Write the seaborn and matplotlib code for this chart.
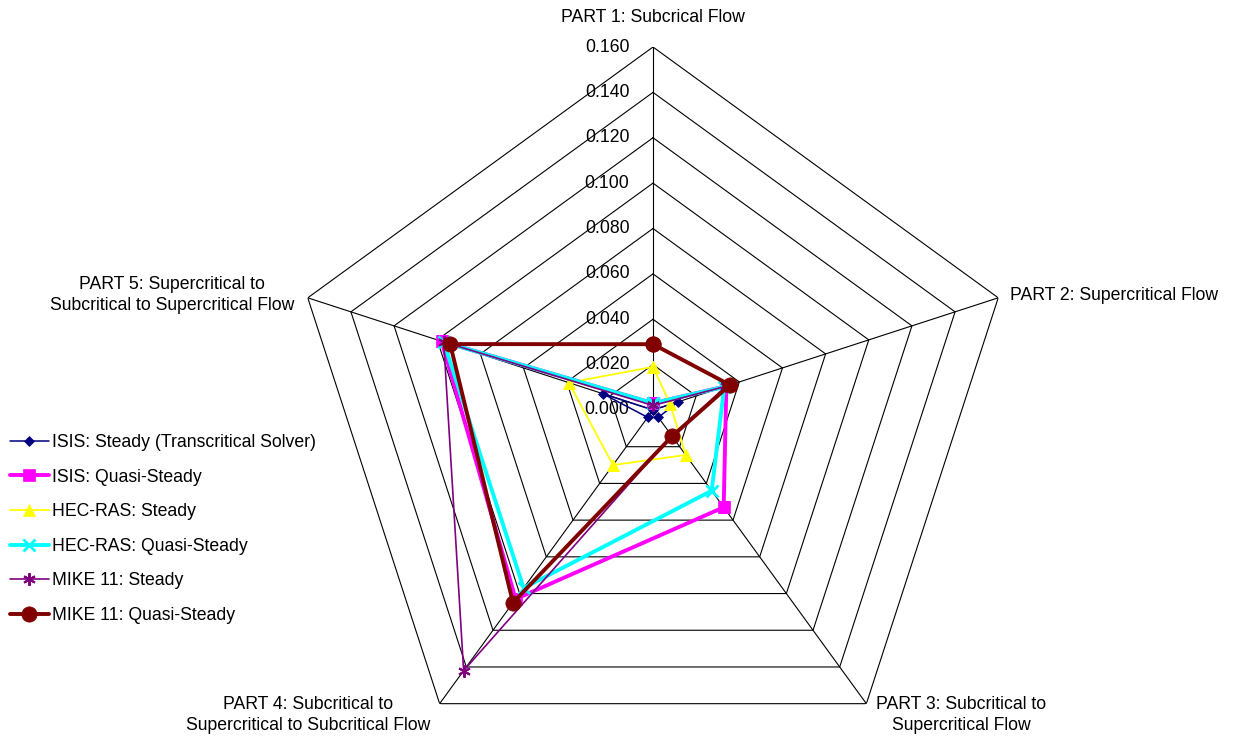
import numpy as np
import pandas as pd
import matplotlib
matplotlib.use("Agg")
import matplotlib.pyplot as plt
import seaborn as sns

# Daten aus dem Radar-Diagramm
parts = ["PART 1: Subcrical Flow",
         "PART 2: Supercritical Flow",
         "PART 3: Subcritical to\nSupercritical Flow",
         "PART 4: Subcritical to\nSupercritical to Subcritical Flow",
         "PART 5: Supercritical to\nSubcritical to Supercritical Flow"]

isis_steady = [0.000, 0.0116, 0.004, 0.004, 0.0234]
isis_quasi = [0.003, 0.034, 0.053, 0.103, 0.098]
hec_steady = [0.019, 0.008, 0.0245, 0.030, 0.039]
hec_quasi = [0.003, 0.033, 0.044, 0.097, 0.097]
mike_steady = [0.002, 0.034, 0.014, 0.142, 0.097]
mike_quasi = [0.029, 0.0357, 0.0143, 0.105, 0.094]

series_names = ["ISIS: Steady (Transcritical Solver)", "ISIS: Quasi-Steady",
                "HEC-RAS: Steady", "HEC-RAS: Quasi-Steady",
                "MIKE 11: Steady", "MIKE 11: Quasi-Steady"]
series_vals = [isis_steady, isis_quasi, hec_steady, hec_quasi, mike_steady, mike_quasi]

radial_ticks = np.arange(0, 0.161, 0.02)

sns.set_style("white")
plt.rcParams["font.family"] = ["Liberation Sans", "DejaVu Sans"]
plt.rcParams["font.size"] = 12.7
plt.rcParams["text.color"] = "black"

W, H = 1238, 739
fig = plt.figure(figsize=(W / 100, H / 100), dpi=100)
cx, cy, R = 653, 410, 363
ax = fig.add_axes([(cx - R) / W, (H - cy - R) / H, 2 * R / W, 2 * R / H], projection="polar")
ax.set_theta_zero_location("N")
ax.set_theta_direction(-1)
ax.set_ylim(0, 0.16)
ax.grid(False)
ax.set_xticks([])
ax.set_yticks([])
ax.spines["polar"].set_visible(False)

n = len(parts)
angles = np.linspace(0, 2 * np.pi, n, endpoint=False)
angles_closed = np.append(angles, angles[0] + 2 * np.pi)

# Fünfeck-Gitter und Speichen
for r in radial_ticks[1:]:
    ax.plot(angles_closed, [r] * (n + 1), color="black", lw=0.8, zorder=1)
for a in angles:
    ax.plot([a, a], [0, 0.16], color="black", lw=0.8, zorder=1)

for r in radial_ticks:
    ax.annotate(f"{r:.3f}", xy=(0, r), xytext=(-17, 0), textcoords="offset points",
                ha="right", va="center", fontsize=12.7, color="black", zorder=2)

styles = [
    dict(color="#000080", marker="D", markersize=5.5, linewidth=1.1, mew=0.5),
    dict(color="#FF00FF", marker="s", markersize=9, linewidth=2.8, mew=0.5),
    dict(color="#FFFF00", marker="^", markersize=8.5, linewidth=1.3, mew=0.5),
    dict(color="#00FFFF", marker="x", markersize=8, linewidth=2.8, mew=2),
    dict(color="#800080", marker=(6, 2, 0), markersize=9, linewidth=1.2, mew=1.5),
    dict(color="#800000", marker="o", markersize=11, linewidth=2.8, mew=0.5),
]

for name, vals, st in zip(series_names, series_vals, styles):
    df = pd.DataFrame({"theta": angles_closed, "r": vals + [vals[0]]})
    sns.lineplot(data=df, x="theta", y="r", ax=ax, sort=False, estimator=None,
                 color=st["color"], marker=st["marker"], markersize=st["markersize"],
                 linewidth=st["linewidth"], markeredgecolor=st["color"],
                 markeredgewidth=st["mew"], label=name, zorder=3)
ax.set_xlabel("")
ax.set_ylabel("")
ax.set_ylim(0, 0.16)

ax.legend(loc="center left", bbox_to_anchor=(10 / W, 1 - 529 / H), bbox_transform=fig.transFigure,
          frameon=False, handlelength=2.2, handletextpad=0.2, labelspacing=1.0,
          fontsize=12.7, borderaxespad=0, borderpad=0, labelcolor="black")

# Achsenbeschriftungen
fig.text(653 / W, 1 - 18 / H, parts[0], ha="center", va="center")
fig.text(1010 / W, 1 - 295 / H, parts[1], ha="left", va="center")
fig.text(961 / W, 1 - 715 / H, parts[2], ha="center", va="center", linespacing=1.3)
fig.text(308 / W, 1 - 715 / H, parts[3], ha="center", va="center", linespacing=1.3)
fig.text(172 / W, 1 - 295 / H, parts[4], ha="center", va="center", linespacing=1.3)

fig.savefig("out.png", dpi=100)
